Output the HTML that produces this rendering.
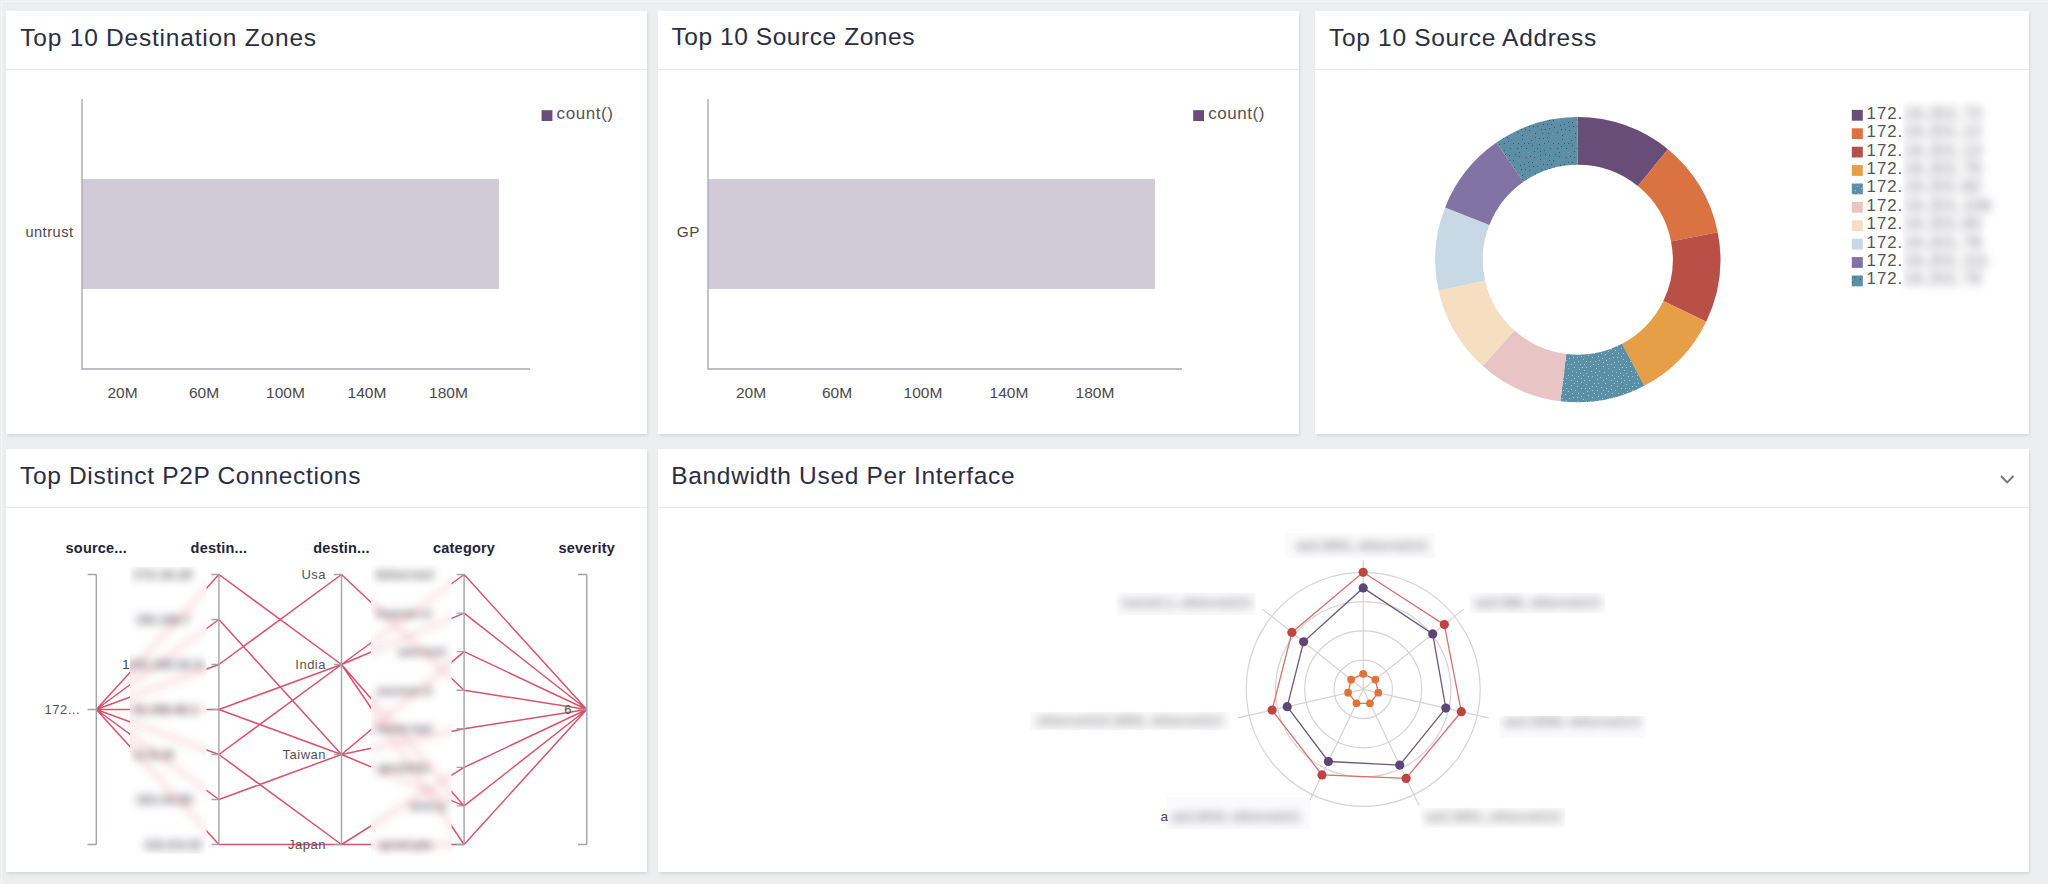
<!DOCTYPE html>
<html lang="en"><head><meta charset="utf-8"><title>Dashboard</title>
<style>
html,body{margin:0;padding:0;}
body{width:2048px;height:884px;overflow:hidden;background:#edeef0;font-family:"Liberation Sans",sans-serif;position:relative;}
.panel{position:absolute;background:#fff;box-shadow:.5px 1.5px 3px rgba(110,95,105,.2);}
.frame{position:absolute;left:1px;top:1px;right:0;bottom:0;border-left:1px solid #f5f5f7;border-top:1px solid #f5f5f7;}
.hdr{position:absolute;left:0;top:0;right:0;height:58px;border-bottom:1px solid #e9e9ec;}
.ttl{position:absolute;left:15px;top:12px;font-size:24.5px;line-height:30px;color:#2b2d42;letter-spacing:.5px;white-space:nowrap;}
svg{position:absolute;left:0;top:0;overflow:visible;}
svg text{font-family:"Liberation Sans",sans-serif;}
.tick{font-size:15.5px;fill:#4c474b;}
.cat{font-size:14.6px;fill:#4c474b;letter-spacing:.5px;}
.leg{font-size:17px;fill:#575253;letter-spacing:.55px;}
.axh{font-size:14.5px;font-weight:700;fill:#23233a;letter-spacing:.2px;}
.pl{font-size:13px;fill:#555;letter-spacing:.5px;}
</style></head><body>
<div class="frame"></div>

<div class="panel" style="left:6px;top:11px;width:641px;height:423px;">
<div class="hdr" style="height:58px"><div class="ttl" style="left:14.3px;top:11.6px;letter-spacing:.78px;">Top 10 Destination Zones</div></div>
<svg width="641" height="423" viewBox="6 11 641 423">
<rect x="82" y="179" width="417" height="110" fill="#d1cad7"/>
<path d="M82 99 V369 H530" fill="none" stroke="#a9a6b4" stroke-width="1.35"/>
<text class="tick" x="122.5" y="397.7" text-anchor="middle">20M</text>
<text class="tick" x="204" y="397.7" text-anchor="middle">60M</text>
<text class="tick" x="285.5" y="397.7" text-anchor="middle">100M</text>
<text class="tick" x="367" y="397.7" text-anchor="middle">140M</text>
<text class="tick" x="448.5" y="397.7" text-anchor="middle">180M</text>
<text class="cat" x="73.5" y="237" text-anchor="end">untrust</text>
<rect x="541.6" y="110.2" width="10.8" height="10.8" fill="#694c7b"/>
<text class="leg" x="556.6" y="118.5">count()</text>
</svg></div>
<div class="panel" style="left:658px;top:11px;width:641px;height:423px;">
<div class="hdr" style="height:58px"><div class="ttl" style="top:10.6px;left:13.5px;letter-spacing:.56px;">Top 10 Source Zones</div></div>
<svg width="641" height="423" viewBox="658 11 641 423">
<rect x="708" y="179" width="447" height="110" fill="#d1cad7"/>
<path d="M708 99 V369 H1182" fill="none" stroke="#a9a6b4" stroke-width="1.35"/>
<text class="tick" x="751" y="397.7" text-anchor="middle">20M</text>
<text class="tick" x="837" y="397.7" text-anchor="middle">60M</text>
<text class="tick" x="923" y="397.7" text-anchor="middle">100M</text>
<text class="tick" x="1009" y="397.7" text-anchor="middle">140M</text>
<text class="tick" x="1095" y="397.7" text-anchor="middle">180M</text>
<text class="cat" x="700" y="237" text-anchor="end" style="font-size:15.4px">GP</text>
<rect x="1193.2" y="110.2" width="10.8" height="10.8" fill="#694c7b"/>
<text class="leg" x="1208.2" y="118.5">count()</text>
</svg></div>
<div class="panel" style="left:1315px;top:11px;width:714px;height:423px;">
<div class="hdr" style="height:58px"><div class="ttl" style="left:14px;top:11.6px;letter-spacing:.69px;">Top 10 Source Address</div></div>
<svg width="714" height="423" viewBox="1315 11 714 423">
<defs><pattern id="dotL" width="40" height="40" patternUnits="userSpaceOnUse"><rect width="40" height="40" fill="#5b8fa6"/><rect x="28" y="35" width="1" height="1" fill="#a5c8d8"/><rect x="29" y="28" width="1" height="1" fill="#a5c8d8"/><rect x="32" y="37" width="1" height="1" fill="#a5c8d8"/><rect x="12" y="11" width="1" height="1" fill="#a5c8d8"/><rect x="32" y="30" width="1" height="1" fill="#a5c8d8"/><rect x="39" y="11" width="1" height="1" fill="#a5c8d8"/><rect x="6" y="28" width="1" height="1" fill="#a5c8d8"/><rect x="19" y="9" width="1" height="1" fill="#a5c8d8"/><rect x="5" y="34" width="1" height="1" fill="#a5c8d8"/><rect x="2" y="38" width="1" height="1" fill="#a5c8d8"/><rect x="25" y="28" width="1" height="1" fill="#a5c8d8"/><rect x="39" y="0" width="1" height="1" fill="#a5c8d8"/><rect x="33" y="4" width="1" height="1" fill="#a5c8d8"/><rect x="3" y="2" width="1" height="1" fill="#a5c8d8"/><rect x="12" y="15" width="1" height="1" fill="#a5c8d8"/><rect x="29" y="20" width="1" height="1" fill="#a5c8d8"/><rect x="12" y="33" width="1" height="1" fill="#a5c8d8"/><rect x="14" y="18" width="1" height="1" fill="#a5c8d8"/><rect x="17" y="26" width="1" height="1" fill="#a5c8d8"/><rect x="18" y="1" width="1" height="1" fill="#a5c8d8"/><rect x="6" y="18" width="1" height="1" fill="#a5c8d8"/><rect x="24" y="4" width="1" height="1" fill="#a5c8d8"/><rect x="3" y="30" width="1" height="1" fill="#a5c8d8"/><rect x="17" y="21" width="1" height="1" fill="#a5c8d8"/><rect x="26" y="7" width="1" height="1" fill="#a5c8d8"/><rect x="8" y="15" width="1" height="1" fill="#a5c8d8"/><rect x="6" y="0" width="1" height="1" fill="#a5c8d8"/><rect x="31" y="11" width="1" height="1" fill="#a5c8d8"/><rect x="35" y="12" width="1" height="1" fill="#a5c8d8"/><rect x="26" y="24" width="1" height="1" fill="#a5c8d8"/><rect x="26" y="13" width="1" height="1" fill="#a5c8d8"/><rect x="0" y="17" width="1" height="1" fill="#a5c8d8"/><rect x="37" y="19" width="1" height="1" fill="#a5c8d8"/><rect x="11" y="25" width="1" height="1" fill="#a5c8d8"/><rect x="38" y="36" width="1" height="1" fill="#a5c8d8"/><rect x="28" y="16" width="1" height="1" fill="#a5c8d8"/><rect x="21" y="18" width="1" height="1" fill="#a5c8d8"/><rect x="13" y="37" width="1" height="1" fill="#a5c8d8"/><rect x="38" y="23" width="1" height="1" fill="#a5c8d8"/><rect x="23" y="39" width="1" height="1" fill="#a5c8d8"/><rect x="37" y="30" width="1" height="1" fill="#a5c8d8"/><rect x="36" y="8" width="1" height="1" fill="#a5c8d8"/><rect x="3" y="6" width="1" height="1" fill="#a5c8d8"/><rect x="32" y="16" width="1" height="1" fill="#a5c8d8"/><rect x="18" y="33" width="1" height="1" fill="#a5c8d8"/><rect x="11" y="4" width="1" height="1" fill="#a5c8d8"/><rect x="23" y="33" width="1" height="1" fill="#a5c8d8"/><rect x="5" y="23" width="1" height="1" fill="#a5c8d8"/><rect x="38" y="4" width="1" height="1" fill="#a5c8d8"/><rect x="34" y="23" width="1" height="1" fill="#a5c8d8"/><rect x="21" y="22" width="1" height="1" fill="#a5c8d8"/><rect x="30" y="1" width="1" height="1" fill="#a5c8d8"/><rect x="14" y="7" width="1" height="1" fill="#a5c8d8"/><rect x="21" y="28" width="1" height="1" fill="#a5c8d8"/><rect x="16" y="12" width="1" height="1" fill="#a5c8d8"/><rect x="20" y="13" width="1" height="1" fill="#a5c8d8"/><rect x="8" y="8" width="1" height="1" fill="#a5c8d8"/><rect x="20" y="4" width="1" height="1" fill="#a5c8d8"/><rect x="4" y="12" width="1" height="1" fill="#a5c8d8"/><rect x="34" y="33" width="1" height="1" fill="#a5c8d8"/><rect x="15" y="30" width="1" height="1" fill="#a5c8d8"/><rect x="11" y="20" width="1" height="1" fill="#a5c8d8"/><rect x="30" y="6" width="1" height="1" fill="#a5c8d8"/><rect x="9" y="38" width="1" height="1" fill="#a5c8d8"/><rect x="1" y="27" width="1" height="1" fill="#a5c8d8"/><rect x="8" y="31" width="1" height="1" fill="#a5c8d8"/><rect x="1" y="33" width="1" height="1" fill="#a5c8d8"/><rect x="24" y="10" width="1" height="1" fill="#a5c8d8"/><rect x="37" y="15" width="1" height="1" fill="#a5c8d8"/><rect x="14" y="2" width="1" height="1" fill="#a5c8d8"/><rect x="36" y="26" width="1" height="1" fill="#a5c8d8"/><rect x="7" y="4" width="1" height="1" fill="#a5c8d8"/><rect x="35" y="1" width="1" height="1" fill="#a5c8d8"/><rect x="3" y="20" width="1" height="1" fill="#a5c8d8"/><rect x="18" y="16" width="1" height="1" fill="#a5c8d8"/><rect x="14" y="23" width="1" height="1" fill="#a5c8d8"/><rect x="11" y="29" width="1" height="1" fill="#a5c8d8"/><rect x="24" y="20" width="1" height="1" fill="#a5c8d8"/><rect x="32" y="26" width="1" height="1" fill="#a5c8d8"/><rect x="22" y="7" width="1" height="1" fill="#a5c8d8"/><rect x="23" y="15" width="1" height="1" fill="#a5c8d8"/><rect x="26" y="1" width="1" height="1" fill="#a5c8d8"/><rect x="21" y="36" width="1" height="1" fill="#a5c8d8"/><rect x="17" y="37" width="1" height="1" fill="#a5c8d8"/><rect x="27" y="31" width="1" height="1" fill="#a5c8d8"/></pattern><pattern id="dotD" width="40" height="40" patternUnits="userSpaceOnUse"><rect width="40" height="40" fill="#5b8fa6"/><rect x="34" y="7" width="1" height="1" fill="#3f4a82"/><rect x="15" y="13" width="1" height="1" fill="#3f4a82"/><rect x="14" y="31" width="1" height="1" fill="#3f4a82"/><rect x="0" y="5" width="1" height="1" fill="#3f4a82"/><rect x="32" y="13" width="1" height="1" fill="#b08a6a"/><rect x="23" y="4" width="1" height="1" fill="#3f4a82"/><rect x="6" y="37" width="1" height="1" fill="#3f4a82"/><rect x="20" y="39" width="1" height="1" fill="#3f4a82"/><rect x="5" y="9" width="1" height="1" fill="#3f4a82"/><rect x="3" y="33" width="1" height="1" fill="#b08a6a"/><rect x="23" y="18" width="1" height="1" fill="#3f4a82"/><rect x="12" y="2" width="1" height="1" fill="#3f4a82"/><rect x="19" y="24" width="1" height="1" fill="#3f4a82"/><rect x="24" y="23" width="1" height="1" fill="#3f4a82"/><rect x="16" y="2" width="1" height="1" fill="#b08a6a"/><rect x="12" y="25" width="1" height="1" fill="#3f4a82"/><rect x="33" y="23" width="1" height="1" fill="#3f4a82"/><rect x="27" y="4" width="1" height="1" fill="#3f4a82"/><rect x="20" y="35" width="1" height="1" fill="#3f4a82"/><rect x="7" y="17" width="1" height="1" fill="#b08a6a"/><rect x="1" y="26" width="1" height="1" fill="#3f4a82"/><rect x="39" y="36" width="1" height="1" fill="#3f4a82"/><rect x="24" y="30" width="1" height="1" fill="#3f4a82"/><rect x="30" y="28" width="1" height="1" fill="#3f4a82"/><rect x="2" y="39" width="1" height="1" fill="#b08a6a"/><rect x="9" y="6" width="1" height="1" fill="#3f4a82"/><rect x="25" y="9" width="1" height="1" fill="#3f4a82"/><rect x="2" y="19" width="1" height="1" fill="#3f4a82"/><rect x="25" y="34" width="1" height="1" fill="#3f4a82"/><rect x="6" y="13" width="1" height="1" fill="#b08a6a"/><rect x="37" y="12" width="1" height="1" fill="#3f4a82"/><rect x="14" y="37" width="1" height="1" fill="#3f4a82"/><rect x="37" y="28" width="1" height="1" fill="#3f4a82"/><rect x="11" y="20" width="1" height="1" fill="#3f4a82"/><rect x="24" y="0" width="1" height="1" fill="#b08a6a"/><rect x="35" y="34" width="1" height="1" fill="#3f4a82"/><rect x="4" y="4" width="1" height="1" fill="#3f4a82"/><rect x="6" y="28" width="1" height="1" fill="#3f4a82"/><rect x="15" y="17" width="1" height="1" fill="#3f4a82"/><rect x="16" y="21" width="1" height="1" fill="#b08a6a"/><rect x="17" y="6" width="1" height="1" fill="#3f4a82"/><rect x="28" y="13" width="1" height="1" fill="#3f4a82"/><rect x="33" y="0" width="1" height="1" fill="#3f4a82"/><rect x="21" y="9" width="1" height="1" fill="#3f4a82"/><rect x="11" y="14" width="1" height="1" fill="#b08a6a"/><rect x="28" y="21" width="1" height="1" fill="#3f4a82"/><rect x="29" y="35" width="1" height="1" fill="#3f4a82"/><rect x="2" y="15" width="1" height="1" fill="#3f4a82"/><rect x="20" y="31" width="1" height="1" fill="#3f4a82"/><rect x="8" y="32" width="1" height="1" fill="#b08a6a"/><rect x="31" y="4" width="1" height="1" fill="#3f4a82"/><rect x="8" y="2" width="1" height="1" fill="#3f4a82"/><rect x="38" y="23" width="1" height="1" fill="#3f4a82"/><rect x="22" y="13" width="1" height="1" fill="#3f4a82"/><rect x="36" y="16" width="1" height="1" fill="#b08a6a"/><rect x="8" y="23" width="1" height="1" fill="#3f4a82"/><rect x="10" y="36" width="1" height="1" fill="#3f4a82"/><rect x="9" y="10" width="1" height="1" fill="#3f4a82"/><rect x="1" y="9" width="1" height="1" fill="#3f4a82"/><rect x="31" y="17" width="1" height="1" fill="#b08a6a"/><rect x="17" y="28" width="1" height="1" fill="#3f4a82"/><rect x="13" y="6" width="1" height="1" fill="#3f4a82"/><rect x="19" y="18" width="1" height="1" fill="#3f4a82"/><rect x="27" y="17" width="1" height="1" fill="#3f4a82"/><rect x="38" y="0" width="1" height="1" fill="#b08a6a"/><rect x="29" y="0" width="1" height="1" fill="#3f4a82"/><rect x="4" y="23" width="1" height="1" fill="#3f4a82"/><rect x="29" y="8" width="1" height="1" fill="#3f4a82"/><rect x="39" y="32" width="1" height="1" fill="#3f4a82"/></pattern></defs>
<path d="M1577.80 117.10 A142.6 142.6 0 0 1 1667.93 149.19 L1637.84 186.08 A95 95 0 0 0 1577.80 164.70 Z" fill="#684d78"/>
<path d="M1667.93 149.19 A142.6 142.6 0 0 1 1717.73 232.25 L1671.02 241.41 A95 95 0 0 0 1637.84 186.08 Z" fill="#da7341"/>
<path d="M1717.73 232.25 A142.6 142.6 0 0 1 1706.19 321.76 L1663.33 301.05 A95 95 0 0 0 1671.02 241.41 Z" fill="#b85047"/>
<path d="M1706.19 321.76 A142.6 142.6 0 0 1 1644.31 385.84 L1622.11 343.74 A95 95 0 0 0 1663.33 301.05 Z" fill="#e69f47"/>
<path d="M1644.31 385.84 A142.6 142.6 0 0 1 1560.42 401.24 L1566.22 353.99 A95 95 0 0 0 1622.11 343.74 Z" fill="url(#dotL)"/>
<path d="M1560.42 401.24 A142.6 142.6 0 0 1 1482.75 366.00 L1514.48 330.52 A95 95 0 0 0 1566.22 353.99 Z" fill="#e9c4c4"/>
<path d="M1482.75 366.00 A142.6 142.6 0 0 1 1438.63 290.81 L1485.09 280.42 A95 95 0 0 0 1514.48 330.52 Z" fill="#f6dec0"/>
<path d="M1438.63 290.81 A142.6 142.6 0 0 1 1445.12 207.44 L1489.41 224.88 A95 95 0 0 0 1485.09 280.42 Z" fill="#c8d9e5"/>
<path d="M1445.12 207.44 A142.6 142.6 0 0 1 1496.42 142.60 L1523.58 181.69 A95 95 0 0 0 1489.41 224.88 Z" fill="#8273a5"/>
<path d="M1496.42 142.60 A142.6 142.6 0 0 1 1577.80 117.10 L1577.80 164.70 A95 95 0 0 0 1523.58 181.69 Z" fill="url(#dotD)"/>
<filter id="bl5" x="-20%" y="-20%" width="140%" height="140%"><feGaussianBlur stdDeviation="5"/></filter>
<clipPath id="clC"><rect x="1903" y="100" width="100" height="196"/></clipPath>
<rect x="1851.8" y="109.9" width="11" height="10.8" fill="#684d78"/>
<text x="1866.6" y="118.8" font-size="16.8" fill="#575253" letter-spacing="1">172.</text>
<rect x="1851.8" y="128.3" width="11" height="10.8" fill="#da7341"/>
<text x="1866.6" y="137.2" font-size="16.8" fill="#575253" letter-spacing="1">172.</text>
<rect x="1851.8" y="146.7" width="11" height="10.8" fill="#b85047"/>
<text x="1866.6" y="155.6" font-size="16.8" fill="#575253" letter-spacing="1">172.</text>
<rect x="1851.8" y="165.1" width="11" height="10.8" fill="#e69f47"/>
<text x="1866.6" y="174.0" font-size="16.8" fill="#575253" letter-spacing="1">172.</text>
<rect x="1851.8" y="183.5" width="11" height="10.8" fill="url(#dotL)"/>
<text x="1866.6" y="192.4" font-size="16.8" fill="#575253" letter-spacing="1">172.</text>
<rect x="1851.8" y="201.9" width="11" height="10.8" fill="#e9c4c4"/>
<text x="1866.6" y="210.8" font-size="16.8" fill="#575253" letter-spacing="1">172.</text>
<rect x="1851.8" y="220.3" width="11" height="10.8" fill="#f6dec0"/>
<text x="1866.6" y="229.2" font-size="16.8" fill="#575253" letter-spacing="1">172.</text>
<rect x="1851.8" y="238.7" width="11" height="10.8" fill="#c8d9e5"/>
<text x="1866.6" y="247.6" font-size="16.8" fill="#575253" letter-spacing="1">172.</text>
<rect x="1851.8" y="257.1" width="11" height="10.8" fill="#8273a5"/>
<text x="1866.6" y="266.0" font-size="16.8" fill="#575253" letter-spacing="1">172.</text>
<rect x="1851.8" y="275.5" width="11" height="10.8" fill="url(#dotD)"/>
<text x="1866.6" y="284.4" font-size="16.8" fill="#575253" letter-spacing="1">172.</text>
<g clip-path="url(#clC)"><g filter="url(#bl5)">
<text x="1904" y="118.8" font-size="16.8" fill="#77737d" letter-spacing=".35">16.201.73</text>
<text x="1904" y="137.2" font-size="16.8" fill="#77737d" letter-spacing=".35">16.201.12</text>
<text x="1904" y="155.6" font-size="16.8" fill="#77737d" letter-spacing=".35">16.201.13</text>
<text x="1904" y="174.0" font-size="16.8" fill="#77737d" letter-spacing=".35">16.201.79</text>
<text x="1904" y="192.4" font-size="16.8" fill="#77737d" letter-spacing=".35">16.201.82</text>
<text x="1904" y="210.8" font-size="16.8" fill="#77737d" letter-spacing=".35">16.201.106</text>
<text x="1904" y="229.2" font-size="16.8" fill="#77737d" letter-spacing=".35">16.201.83</text>
<text x="1904" y="247.6" font-size="16.8" fill="#77737d" letter-spacing=".35">16.201.78</text>
<text x="1904" y="266.0" font-size="16.8" fill="#77737d" letter-spacing=".35">16.201.111</text>
<text x="1904" y="284.4" font-size="16.8" fill="#77737d" letter-spacing=".35">16.201.76</text>
</g></g>
</svg></div>
<div class="panel" style="left:6px;top:449px;width:641px;height:423px;">
<div class="hdr" style="height:58px"><div class="ttl" style="left:14px;top:12px;letter-spacing:.67px;">Top Distinct P2P Connections</div></div>
<svg width="641" height="423" viewBox="6 449 641 423">
<path d="M96.3 709.5L218.9 574.5 M96.3 709.5L218.9 619.5 M96.3 709.5L218.9 664.5 M96.3 709.5L218.9 709.5 M96.3 709.5L218.9 754.5 M96.3 709.5L218.9 799.5 M96.3 709.5L218.9 844.5 M218.9 574.5L341.5 664.5 M218.9 619.5L341.5 754.5 M218.9 664.5L341.5 574.5 M218.9 709.5L341.5 664.5 M218.9 709.5L341.5 754.5 M218.9 754.5L341.5 664.5 M218.9 754.5L341.5 844.5 M218.9 799.5L341.5 754.5 M218.9 844.5L341.5 844.5 M341.5 574.5L464.1 690.2 M341.5 664.5L464.1 574.5 M341.5 664.5L464.1 613.1 M341.5 664.5L464.1 805.9 M341.5 664.5L464.1 844.5 M341.5 754.5L464.1 651.6 M341.5 754.5L464.1 728.8 M341.5 754.5L464.1 805.9 M341.5 844.5L464.1 767.4 M341.5 844.5L464.1 844.5 M464.1 574.5L586.8 709.5 M464.1 613.1L586.8 709.5 M464.1 651.6L586.8 709.5 M464.1 690.2L586.8 709.5 M464.1 728.8L586.8 709.5 M464.1 767.4L586.8 709.5 M464.1 805.9L586.8 709.5 M464.1 844.5L586.8 709.5" fill="none" stroke="#d9536b" stroke-width="1.5"/>
<path d="M96.3 574.5V844.5M96.3 574.5h-8.8M96.3 844.5h-8.8M96.3 709.5h-8.8" fill="none" stroke="#a4a3ad" stroke-width="1.4"/>
<path d="M218.9 574.5V844.5M218.9 574.5h-7.5M218.9 619.5h-7.5M218.9 664.5h-7.5M218.9 709.5h-7.5M218.9 754.5h-7.5M218.9 799.5h-7.5M218.9 844.5h-7.5" fill="none" stroke="#a4a3ad" stroke-width="1.4"/>
<path d="M341.5 574.5V844.5M341.5 574.5h-7.5M341.5 664.5h-7.5M341.5 754.5h-7.5M341.5 844.5h-7.5" fill="none" stroke="#a4a3ad" stroke-width="1.4"/>
<path d="M464.1 574.5V844.5M464.1 574.5h-7.5M464.1 613.1h-7.5M464.1 651.6h-7.5M464.1 690.2h-7.5M464.1 728.8h-7.5M464.1 767.4h-7.5M464.1 805.9h-7.5M464.1 844.5h-7.5" fill="none" stroke="#a4a3ad" stroke-width="1.4"/>
<path d="M586.8 574.5V844.5M586.8 574.5h-8.8M586.8 844.5h-8.8M586.8 709.5h-8.8" fill="none" stroke="#a4a3ad" stroke-width="1.4"/>
<text class="axh" x="96.3" y="552.8" text-anchor="middle">source...</text>
<text class="axh" x="218.9" y="552.8" text-anchor="middle">destin...</text>
<text class="axh" x="341.5" y="552.8" text-anchor="middle">destin...</text>
<text class="axh" x="464.1" y="552.8" text-anchor="middle">category</text>
<text class="axh" x="586.8" y="552.8" text-anchor="middle">severity</text>
<text class="pl" x="80" y="714.0" text-anchor="end">172...</text>
<text class="pl" x="326" y="579.0" text-anchor="end">Usa</text>
<text class="pl" x="326" y="669.0" text-anchor="end">India</text>
<text class="pl" x="326" y="759.0" text-anchor="end">Taiwan</text>
<text class="pl" x="326" y="849.0" text-anchor="end">Japan</text>
<text class="pl" x="572" y="714.0" text-anchor="end">6</text>
<filter id="bl3" x="-20%" y="-20%" width="140%" height="140%"><feGaussianBlur stdDeviation="4.5"/></filter>
<clipPath id="clD1"><rect x="130" y="567" width="76.5" height="287"/></clipPath>
<clipPath id="clD2"><rect x="371" y="564.5" width="80.5" height="292"/></clipPath>
<g clip-path="url(#clD1)"><rect x="100" y="555" width="400" height="310" fill="#fff"/><g filter="url(#bl3)">
<path d="M96.3 709.5L218.9 574.5 M96.3 709.5L218.9 619.5 M96.3 709.5L218.9 664.5 M96.3 709.5L218.9 709.5 M96.3 709.5L218.9 754.5 M96.3 709.5L218.9 799.5 M96.3 709.5L218.9 844.5 M218.9 574.5L341.5 664.5 M218.9 619.5L341.5 754.5 M218.9 664.5L341.5 574.5 M218.9 709.5L341.5 664.5 M218.9 709.5L341.5 754.5 M218.9 754.5L341.5 664.5 M218.9 754.5L341.5 844.5 M218.9 799.5L341.5 754.5 M218.9 844.5L341.5 844.5 M341.5 574.5L464.1 690.2 M341.5 664.5L464.1 574.5 M341.5 664.5L464.1 613.1 M341.5 664.5L464.1 805.9 M341.5 664.5L464.1 844.5 M341.5 754.5L464.1 651.6 M341.5 754.5L464.1 728.8 M341.5 754.5L464.1 805.9 M341.5 844.5L464.1 767.4 M341.5 844.5L464.1 844.5 M464.1 574.5L586.8 709.5 M464.1 613.1L586.8 709.5 M464.1 651.6L586.8 709.5 M464.1 690.2L586.8 709.5 M464.1 728.8L586.8 709.5 M464.1 767.4L586.8 709.5 M464.1 805.9L586.8 709.5 M464.1 844.5L586.8 709.5" fill="none" stroke="#d9536b" stroke-width="1.5" opacity=".65"/>
<text class="pl" x="133" y="579.0" textLength="60" lengthAdjust="spacingAndGlyphs" style="fill:#5d5a63;font-weight:700">172.16.20</text>
<text class="pl" x="136" y="624.0" textLength="54.5" lengthAdjust="spacingAndGlyphs" style="fill:#5d5a63;font-weight:700">192.168.7</text>
<text class="pl" x="126" y="669.0" textLength="77" lengthAdjust="spacingAndGlyphs" style="fill:#5d5a63;font-weight:700">103.195.52.8</text>
<text class="pl" x="133" y="714.0" textLength="65" lengthAdjust="spacingAndGlyphs" style="fill:#5d5a63;font-weight:700">52.196.46.1</text>
<text class="pl" x="133" y="759.0" textLength="41" lengthAdjust="spacingAndGlyphs" style="fill:#5d5a63;font-weight:700">13.33.46</text>
<text class="pl" x="136" y="804.0" textLength="57" lengthAdjust="spacingAndGlyphs" style="fill:#5d5a63;font-weight:700">163.44.85</text>
<text class="pl" x="144" y="849.0" textLength="58" lengthAdjust="spacingAndGlyphs" style="fill:#5d5a63;font-weight:700">118.214.32</text>
</g></g>
<g clip-path="url(#clD2)"><rect x="100" y="555" width="400" height="310" fill="#fff"/><g filter="url(#bl3)">
<path d="M96.3 709.5L218.9 574.5 M96.3 709.5L218.9 619.5 M96.3 709.5L218.9 664.5 M96.3 709.5L218.9 709.5 M96.3 709.5L218.9 754.5 M96.3 709.5L218.9 799.5 M96.3 709.5L218.9 844.5 M218.9 574.5L341.5 664.5 M218.9 619.5L341.5 754.5 M218.9 664.5L341.5 574.5 M218.9 709.5L341.5 664.5 M218.9 709.5L341.5 754.5 M218.9 754.5L341.5 664.5 M218.9 754.5L341.5 844.5 M218.9 799.5L341.5 754.5 M218.9 844.5L341.5 844.5 M341.5 574.5L464.1 690.2 M341.5 664.5L464.1 574.5 M341.5 664.5L464.1 613.1 M341.5 664.5L464.1 805.9 M341.5 664.5L464.1 844.5 M341.5 754.5L464.1 651.6 M341.5 754.5L464.1 728.8 M341.5 754.5L464.1 805.9 M341.5 844.5L464.1 767.4 M341.5 844.5L464.1 844.5 M464.1 574.5L586.8 709.5 M464.1 613.1L586.8 709.5 M464.1 651.6L586.8 709.5 M464.1 690.2L586.8 709.5 M464.1 728.8L586.8 709.5 M464.1 767.4L586.8 709.5 M464.1 805.9L586.8 709.5 M464.1 844.5L586.8 709.5" fill="none" stroke="#d9536b" stroke-width="1.5" opacity=".65"/>
<text class="pl" x="376" y="579.0" textLength="58" lengthAdjust="spacingAndGlyphs" style="fill:#5d5a63;font-weight:700">bittorrent</text>
<text class="pl" x="376" y="617.6" textLength="56" lengthAdjust="spacingAndGlyphs" style="fill:#5d5a63;font-weight:700">freenet-ct</text>
<text class="pl" x="398" y="656.1" textLength="48" lengthAdjust="spacingAndGlyphs" style="fill:#5d5a63;font-weight:700">utorrent</text>
<text class="pl" x="377" y="694.7" textLength="55" lengthAdjust="spacingAndGlyphs" style="fill:#5d5a63;font-weight:700">azureus-d</text>
<text class="pl" x="377" y="733.3" textLength="55" lengthAdjust="spacingAndGlyphs" style="fill:#5d5a63;font-weight:700">emule-kad</text>
<text class="pl" x="379" y="771.9" textLength="53" lengthAdjust="spacingAndGlyphs" style="fill:#5d5a63;font-weight:700">gnutella-</text>
<text class="pl" x="410" y="810.4" textLength="36" lengthAdjust="spacingAndGlyphs" style="fill:#5d5a63;font-weight:700">ares-p</text>
<text class="pl" x="379" y="849.0" textLength="53" lengthAdjust="spacingAndGlyphs" style="fill:#5d5a63;font-weight:700">qvod-pla</text>
</g></g>
<text class="pl" x="130" y="669.0" text-anchor="end" style="fill:#444">1</text>
</svg></div>
<div class="panel" style="left:658px;top:449px;width:1371px;height:423px;">
<div class="hdr" style="height:58px"><div class="ttl" style="left:13.3px;top:12px;letter-spacing:.66px;">Bandwidth Used Per Interface</div></div>
<svg width="1371" height="423" viewBox="658 449 1371 423">
<circle cx="1363.2" cy="689.3" r="29.25" fill="none" stroke="#d4d4d4" stroke-width="1.2"/>
<circle cx="1363.2" cy="689.3" r="58.50" fill="none" stroke="#d4d4d4" stroke-width="1.2"/>
<circle cx="1363.2" cy="689.3" r="87.75" fill="none" stroke="#d4d4d4" stroke-width="1.2"/>
<circle cx="1363.2" cy="689.3" r="117.00" fill="none" stroke="#d4d4d4" stroke-width="1.2"/>
<path d="M1363.2 689.3L1363.2 560.6M1363.2 689.3L1463.8 609.1M1363.2 689.3L1488.7 717.9M1363.2 689.3L1419.0 805.3M1363.2 689.3L1307.4 805.3M1363.2 689.3L1237.7 717.9M1363.2 689.3L1262.6 609.1" fill="none" stroke="#d4d4d4" stroke-width="1.2"/>
<polygon points="1363.2,572.3 1444.3,624.6 1461.3,711.7 1406.1,778.4 1322.0,774.9 1272.1,710.1 1291.9,632.4" fill="none" stroke="#d9706e" stroke-width="1.3"/>
<circle cx="1363.2" cy="572.3" r="4.6" fill="#c0433f"/>
<circle cx="1444.3" cy="624.6" r="4.6" fill="#c0433f"/>
<circle cx="1461.3" cy="711.7" r="4.6" fill="#c0433f"/>
<circle cx="1406.1" cy="778.4" r="4.6" fill="#c0433f"/>
<circle cx="1322.0" cy="774.9" r="4.6" fill="#c0433f"/>
<circle cx="1272.1" cy="710.1" r="4.6" fill="#c0433f"/>
<circle cx="1291.9" cy="632.4" r="4.6" fill="#c0433f"/>
<polygon points="1363.2,587.9 1432.7,633.9 1445.8,708.1 1399.7,765.1 1328.4,761.5 1287.2,706.7 1303.6,641.8" fill="none" stroke="#6b5a8a" stroke-width="1.3"/>
<circle cx="1363.2" cy="587.9" r="4.6" fill="#5e4578"/>
<circle cx="1432.7" cy="633.9" r="4.6" fill="#5e4578"/>
<circle cx="1445.8" cy="708.1" r="4.6" fill="#5e4578"/>
<circle cx="1399.7" cy="765.1" r="4.6" fill="#5e4578"/>
<circle cx="1328.4" cy="761.5" r="4.6" fill="#5e4578"/>
<circle cx="1287.2" cy="706.7" r="4.6" fill="#5e4578"/>
<circle cx="1303.6" cy="641.8" r="4.6" fill="#5e4578"/>
<polygon points="1363.2,673.8 1375.3,679.6 1378.3,692.7 1369.9,703.3 1356.5,703.3 1348.1,692.7 1351.1,679.6" fill="none" stroke="#e0733b" stroke-width="1.3"/>
<circle cx="1363.2" cy="673.8" r="3.9" fill="#e0733b"/>
<circle cx="1375.3" cy="679.6" r="3.9" fill="#e0733b"/>
<circle cx="1378.3" cy="692.7" r="3.9" fill="#e0733b"/>
<circle cx="1369.9" cy="703.3" r="3.9" fill="#e0733b"/>
<circle cx="1356.5" cy="703.3" r="3.9" fill="#e0733b"/>
<circle cx="1348.1" cy="692.7" r="3.9" fill="#e0733b"/>
<circle cx="1351.1" cy="679.6" r="3.9" fill="#e0733b"/>
<filter id="bl2" x="-10%" y="-80%" width="120%" height="260%"><feGaussianBlur stdDeviation="4.6"/></filter>
<clipPath id="clE0"><rect x="1285" y="533" width="150.0" height="25.0"/></clipPath>
<g clip-path="url(#clE0)"><rect x="1285" y="533" width="150.0" height="25.0" fill="#fbfbfc"/><g filter="url(#bl2)"><text x="1296" y="549.8" font-size="13.5" font-weight="700" fill="#8b8991" textLength="132.0" lengthAdjust="spacing">ae2.3001, ethernet1/1</text></g></g>
<clipPath id="clE1"><rect x="1469.3" y="592.4" width="135.7" height="21.0"/></clipPath>
<g clip-path="url(#clE1)"><rect x="1469.3" y="592.4" width="135.7" height="21.0" fill="#fbfbfc"/><g filter="url(#bl2)"><text x="1475" y="607.0" font-size="13.5" font-weight="700" fill="#8b8991" textLength="126.0" lengthAdjust="spacing">ae2.566, ethernet1/1</text></g></g>
<clipPath id="clE2"><rect x="1499.2" y="716.1" width="146.8" height="21.9"/></clipPath>
<g clip-path="url(#clE2)"><rect x="1499.2" y="716.1" width="146.8" height="21.9" fill="#fbfbfc"/><g filter="url(#bl2)"><text x="1504" y="725.7" font-size="13.5" font-weight="700" fill="#8b8991" textLength="137.0" lengthAdjust="spacing">ae2.3008, ethernet1/1</text></g></g>
<clipPath id="clE3"><rect x="1420.4" y="807.8" width="144.8" height="19.9"/></clipPath>
<g clip-path="url(#clE3)"><rect x="1420.4" y="807.8" width="144.8" height="19.9" fill="#fbfbfc"/><g filter="url(#bl2)"><text x="1426" y="820.7" font-size="13.5" font-weight="700" fill="#8b8991" textLength="135.4" lengthAdjust="spacing">ae2.3001, ethernet1/1</text></g></g>
<clipPath id="clE4"><rect x="1165.9" y="797" width="144.1" height="32.6"/></clipPath>
<g clip-path="url(#clE4)"><rect x="1165.9" y="797" width="144.1" height="32.6" fill="#fbfbfc"/><g filter="url(#bl2)"><text x="1170.8" y="820.7" font-size="13.5" font-weight="700" fill="#8b8991" textLength="130.0" lengthAdjust="spacing">ae2.2010, ethernet1/1</text></g></g>
<clipPath id="clE5"><rect x="1030.2" y="711.8" width="199.6" height="18.2"/></clipPath>
<g clip-path="url(#clE5)"><rect x="1030.2" y="711.8" width="199.6" height="18.2" fill="#fbfbfc"/><g filter="url(#bl2)"><text x="1037" y="724.7" font-size="13.5" font-weight="700" fill="#8b8991" textLength="186.0" lengthAdjust="spacing">ethernet1/2.3005, ethernet1/1</text></g></g>
<clipPath id="clE6"><rect x="1116.3" y="592.4" width="139.4" height="22.5"/></clipPath>
<g clip-path="url(#clE6)"><rect x="1116.3" y="592.4" width="139.4" height="22.5" fill="#fbfbfc"/><g filter="url(#bl2)"><text x="1122" y="607.0" font-size="13.5" font-weight="700" fill="#8b8991" textLength="129.9" lengthAdjust="spacing">tunnel.1, ethernet1/1</text></g></g>
<text x="1160.5" y="820.5" font-size="13.5" fill="#444">a</text>
<path d="M2001 476 L2007.2 482.3 L2013.4 476" fill="none" stroke="#757575" stroke-width="1.9"/>
</svg></div>
</body></html>
